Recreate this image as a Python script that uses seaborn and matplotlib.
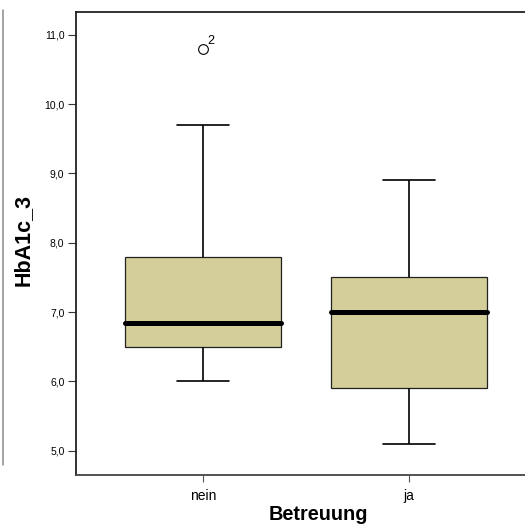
import matplotlib
matplotlib.use("Agg")
import matplotlib.pyplot as plt
from matplotlib.lines import Line2D
from matplotlib.ticker import FuncFormatter
import pandas as pd
import seaborn as sns

# Group summaries (HbA1c_3 by Betreuung)
groups = ["nein", "ja"]
whisker_low = [6.0, 5.1]
q1 = [6.5, 5.9]
median = [6.85, 7.0]
q3 = [7.8, 7.5]
whisker_high = [9.7, 8.9]
outliers = [[10.8], []]
outlier_cases = [["2"], []]
y_ticks = [5.0, 6.0, 7.0, 8.0, 9.0, 10.0, 11.0]


def sample_from_summary(lo, a, m, b, hi, extra):
    # nine values whose linear-interpolated quartiles equal (a, m, b)
    tail = [hi] + list(extra) if extra else [b, hi]
    return [lo, a, a, m, m, m, b] + tail


rows = []
for g, lo, a, m, b, hi, ex in zip(groups, whisker_low, q1, median, q3,
                                  whisker_high, outliers):
    for v in sample_from_summary(lo, a, m, b, hi, ex):
        rows.append({"Betreuung": g, "HbA1c_3": v})
df = pd.DataFrame(rows)

sns.set_theme(style="white")
plt.rcParams["font.family"] = ["Liberation Sans", "DejaVu Sans"]

W, H = 525, 524
fig = plt.figure(figsize=(W / 100, H / 100), dpi=100)
ax = fig.add_axes([76 / W, 1 - 475 / H, (W - 76) / W, (475 - 12) / H])

box_color = "#D3CE9A"
sns.boxplot(
    data=df, x="Betreuung", y="HbA1c_3", order=groups, ax=ax,
    color=box_color, saturation=1, width=0.76, whis=1.5,
    linecolor="black", linewidth=1.0, fliersize=7,
    capwidths=0.25,
    boxprops=dict(edgecolor="#222222", linewidth=0.9),
    medianprops=dict(color="black", linewidth=3.6, solid_capstyle="round"),
    whiskerprops=dict(color="black", linewidth=1.2),
    capprops=dict(color="black", linewidth=1.2),
    flierprops=dict(marker="o", markerfacecolor="none",
                    markeredgecolor="black", markeredgewidth=0.8),
)

# case labels next to outliers
for i, (vals, cases) in enumerate(zip(outliers, outlier_cases)):
    for v, c in zip(vals, cases):
        ax.annotate(c, xy=(i, v), xytext=(3.0, 1.0), textcoords="offset points",
                    ha="left", va="bottom", fontsize=9, color="black")

ax.set_xlim(-0.6165, 1.563)
ax.set_ylim(4.65, 11.33)
ax.set_yticks(y_ticks)
ax.yaxis.set_major_formatter(FuncFormatter(lambda v, p: f"{v:.1f}".replace(".", ",")))

ax.tick_params(axis="y", which="major", left=True, length=5.8, width=0.8,
               color="#333333", labelsize=7.5, pad=2.5, labelcolor="black")
ax.tick_params(axis="x", which="major", bottom=True, length=5, width=0.8,
               color="#555555", labelsize=10, pad=5, labelcolor="black")

for side in ["left", "bottom", "top"]:
    ax.spines[side].set_visible(True)
    ax.spines[side].set_color("#222222")
    ax.spines[side].set_linewidth(1.3)
ax.spines["bottom"].set_color("#444444")
ax.spines["right"].set_visible(False)

ax.set_xlabel("Betreuung", fontsize=14.3, fontweight="bold", va="center",
              color="black")
ax.xaxis.set_label_coords((318 - 76) / (W - 76), -(514 - 475) / (475 - 12))
ax.set_ylabel("HbA1c_3", fontsize=15.5, fontweight="bold", va="center",
              color="black")
ax.yaxis.set_label_coords(-(76 - 23) / (W - 76), (475 - 240) / (475 - 12))

fig.add_artist(Line2D([3 / W, 3 / W], [1 - 10 / H, 1 - 465 / H],
                      color="#8a8a8a", linewidth=1.1))

fig.savefig("out.png", dpi=100, facecolor="white")
